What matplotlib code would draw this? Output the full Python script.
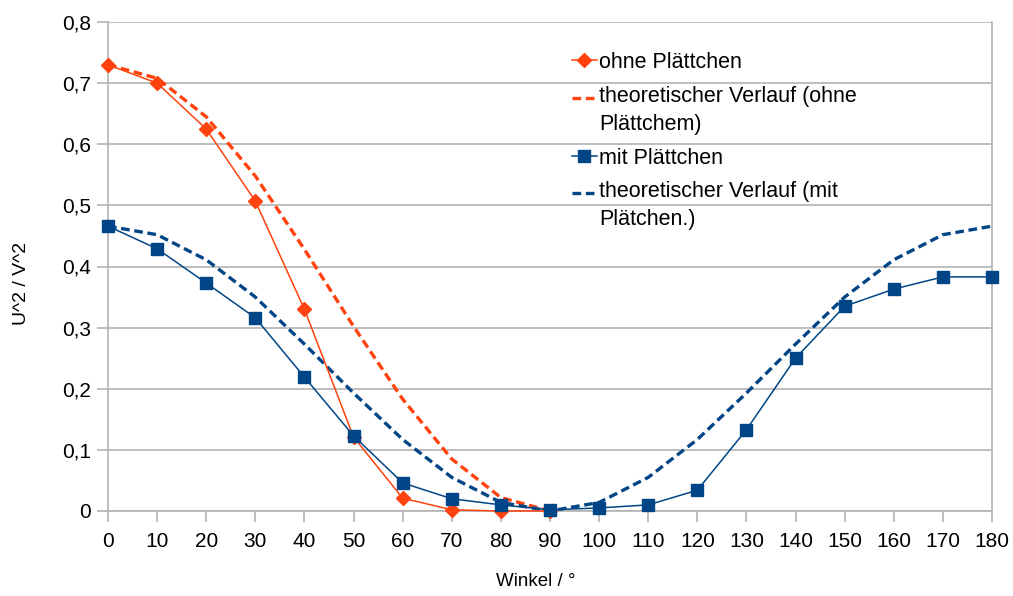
import numpy as np
import matplotlib
matplotlib.use("Agg")
import matplotlib.pyplot as plt
from matplotlib.ticker import FuncFormatter
from matplotlib.legend_handler import HandlerLine2D

# Measured angles (degrees)
angles = [0, 10, 20, 30, 40, 50, 60, 70, 80, 90, 100, 110, 120, 130, 140, 150, 160, 170, 180]
angles_ohne = angles[:10]

# U^2 without the plate
ohne = [0.73, 0.70, 0.625, 0.507, 0.33, 0.121, 0.021, 0.002, 0.0, 0.0]
# theoretical curve without the plate
theo_ohne = [0.73, 0.708, 0.645, 0.548, 0.428, 0.302, 0.183, 0.085, 0.022, 0.0]
# U^2 with the plate
mit = [0.466, 0.429, 0.373, 0.316, 0.219, 0.123, 0.046, 0.02, 0.01, 0.002,
       0.005, 0.01, 0.034, 0.133, 0.25, 0.335, 0.363, 0.383, 0.383]
# theoretical curve with the plate
theo_mit = [0.466, 0.452, 0.411, 0.35, 0.273, 0.193, 0.117, 0.055, 0.014, 0.0,
            0.014, 0.055, 0.117, 0.193, 0.273, 0.35, 0.411, 0.452, 0.466]

labels = ["ohne Plättchen", "theoretischer Verlauf (ohne\nPlättchem)",
          "mit Plättchen", "theoretischer Verlauf (mit\nPlätchen.)"]

ORANGE = "#ff420e"
BLUE = "#004586"
GRID = "#b3b3b3"


class FirstLineHandler(HandlerLine2D):
    """Legend handle that sits next to the first line of a two-line label."""

    def __init__(self, shift, **kw):
        super().__init__(**kw)
        self.shift = shift

    def create_artists(self, *args, **kwargs):
        artists = super().create_artists(*args, **kwargs)
        for a in artists:
            a.set_ydata(np.asarray(a.get_ydata(), dtype=float) + self.shift)
        return artists


plt.rcParams["font.family"] = ["Liberation Sans", "DejaVu Sans"]

fig = plt.figure(figsize=(10.13, 5.96), dpi=100)
ax = fig.add_axes([108 / 1013, 1 - 511 / 596, 884 / 1013, 489 / 596])

dash = (0, (2.6, 1.4))
l1, = ax.plot(angles_ohne, ohne, color=ORANGE, lw=1.1, marker="D", ms=7.5,
              label=labels[0], zorder=4, clip_on=False)
l2, = ax.plot(angles_ohne, theo_ohne, color=ORANGE, lw=2.4, ls=dash,
              label=labels[1], zorder=3)
l3, = ax.plot(angles, mit, color=BLUE, lw=1.1, marker="s", ms=8.5,
              label=labels[2], zorder=4, clip_on=False)
l4, = ax.plot(angles, theo_mit, color=BLUE, lw=2.4, ls=dash,
              label=labels[3], zorder=3)

ax.set_xlim(0, 180)
ax.set_ylim(0, 0.8)
ax.set_xticks(range(0, 181, 10))
ax.set_yticks([i / 10 for i in range(9)])
ax.yaxis.set_major_formatter(FuncFormatter(lambda v, p: f"{v:.1f}".replace(".", ",") if v else "0"))
ax.grid(axis="y", color=GRID, lw=1.2)
ax.set_axisbelow(True)
for s in ax.spines.values():
    s.set_color(GRID)
    s.set_linewidth(1.2)
ax.spines["top"].set_visible(False)
ax.tick_params(colors=GRID, labelcolor="#000000", labelsize=15, length=8, width=1.2, pad=4)
ax.tick_params(axis="x", pad=7)

ax.set_xlabel("Winkel / °", fontsize=13.5)
ax.xaxis.set_label_coords((536 - 108) / 884, -(581 - 511) / 489, transform=ax.transAxes)
ax.xaxis.label.set_va("center")
ax.set_ylabel("U^2 / V^2", fontsize=14)
ax.yaxis.set_label_coords(-(108 - 21) / 884, (511 - 283) / 489, transform=ax.transAxes)
ax.yaxis.label.set_va("center")

two_line = FirstLineHandler(9.5)
leg = ax.legend(handles=[l1, l2, l3, l4],
                loc="upper left", bbox_to_anchor=((572 - 108) / 884, (511 - 52) / 489),
                frameon=False, fontsize=15.5, handlelength=1.15, handletextpad=0.12,
                labelspacing=0.6, borderaxespad=0, borderpad=0,
                handler_map={l2: two_line, l4: two_line})
for t in leg.get_texts():
    t.set_linespacing(1.42)

fig.savefig("out.png", dpi=100, facecolor="white")
